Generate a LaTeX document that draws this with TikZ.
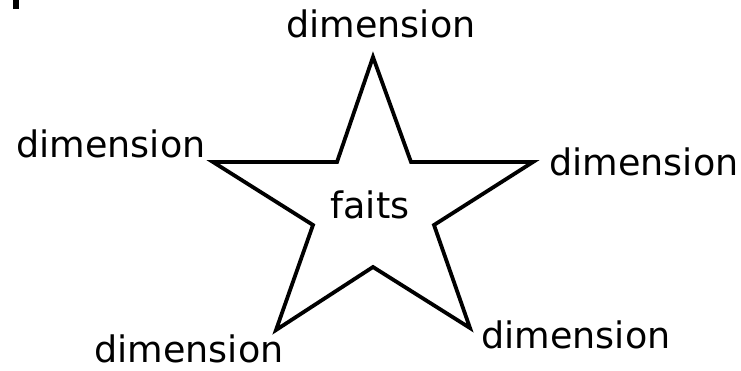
\documentclass[tikz,border=0pt]{standalone}
\usepackage{fontspec}
\setmainfont{DejaVu Sans}
\begin{document}
\begin{tikzpicture}[x=1pt,y=-1pt,
  lbl/.style={anchor=base,inner sep=0pt,text depth=0pt,font=\fontsize{36.5}{44}\selectfont},
  starline/.style={draw=black,line width=3.8pt,line join=miter}]
\useasboundingbox (0,0) rectangle (741,370);
\fill[black] (13,0) rectangle (19,9);
% star vertices
\coordinate (t) at (373,57);
\coordinate (ir) at (411,162);
\coordinate (r) at (533,162);
\coordinate (irl) at (434,225);
\coordinate (br) at (470,328);
\coordinate (ib) at (373,267);
\coordinate (bl) at (276,330);
\coordinate (ill) at (313,225);
\coordinate (l) at (213,162);
\coordinate (il) at (337,162);
\draw[starline] (t) -- (ir) -- (r) -- (irl) -- (br) -- (ib) -- (bl) -- (ill) -- (l) -- (il) -- cycle;
\node[lbl] (faits) at (370,218) {faits};
\node[lbl] (dtop) at (381,37) {dimension};
\node[lbl] (dleft) at (111,157) {dimension};
\node[lbl] (dright) at (644,175) {dimension};
\node[lbl] (dbl) at (189,362) {dimension};
\node[lbl] (dbr) at (576,348) {dimension};
\end{tikzpicture}
\end{document}
